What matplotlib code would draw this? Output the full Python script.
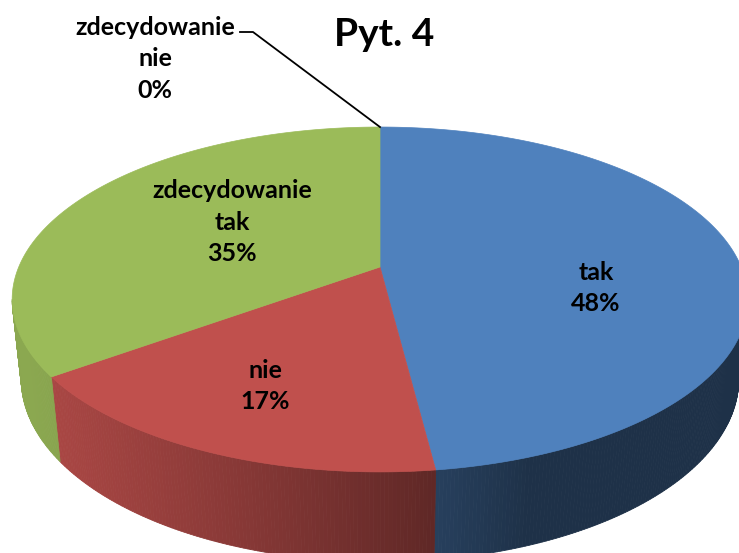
import numpy as np
import matplotlib
matplotlib.use('Agg')
import matplotlib.pyplot as plt
from matplotlib.patches import Polygon
from matplotlib.colors import to_rgb

# data
categories = ['tak', 'nie', 'zdecydowanie\ntak', 'zdecydowanie\nnie']
values = [48, 17, 35, 0]
colors = ['#4F81BD', '#C0504D', '#9BBB59', '#8064A2']
title = 'Pyt. 4'

# label layout (pixel centres of the text blocks)
label_pos = [(596, 288), (265, 386), (232, 222), (155, 59)]

# simple perspective camera for the 3d pie
CX, CY = 380, 267
F = 1703
SIN_A, COS_A = 0.4604, 0.8877
DIST = 4.714
DEPTH = 0.25
VISIBLE = np.degrees(np.arccos(-1 / (DIST / COS_A)))  # first side angle facing camera


def project(theta, r=1.0, drop=0.0):
    t = np.radians(theta)
    X = r * np.sin(t)
    Z = -r * np.cos(t)
    den = DIST + drop * SIN_A - Z * COS_A
    return CX + F * X / den, CY + F * (drop * COS_A + Z * SIN_A) / den


def shade(color, theta):
    k = 0.38 + 0.52 * max(0.0, np.cos(np.radians(theta - 250)))
    return tuple(c * k for c in to_rgb(color))


fig = plt.figure(figsize=(7.39, 5.53), dpi=100)
ax = fig.add_axes([0, 0, 1, 1])
ax.set_xlim(0, 739)
ax.set_ylim(553, 0)
ax.axis('off')

total = float(sum(values))
ends = np.cumsum(values) / total * 360
starts = ends - np.array(values) / total * 360

# side walls
for a0, a1, col in zip(starts, ends, colors):
    lo, hi = max(a0, VISIBLE), min(a1, 360 - VISIBLE)
    if hi <= lo:
        continue
    ths = np.linspace(lo, hi, max(2, int(hi - lo) * 2))
    for t0, t1 in zip(ths[:-1], ths[1:]):
        pts = [project(t0), project(t1), project(t1, drop=DEPTH), project(t0, drop=DEPTH)]
        c = shade(col, (t0 + t1) / 2)
        ax.add_patch(Polygon(pts, closed=True, facecolor=c, edgecolor=c, lw=0.6))

# top face
centre = project(0, r=0)
for a0, a1, col in zip(starts, ends, colors):
    if a1 - a0 <= 0:
        continue
    ths = np.linspace(a0, a1, max(2, int((a1 - a0) * 2)))
    pts = [centre] + [project(t) for t in ths]
    ax.add_patch(Polygon(pts, closed=True, facecolor=col, edgecolor=col, lw=0.5))

# labels
font = ['Lato', 'DejaVu Sans']
for name, val, (lx, ly) in zip(categories, values, label_pos):
    ax.text(lx, ly, f'{name}\n{val:.0f}%', ha='center', va='center',
            fontsize=18, fontweight='bold', family=font, linespacing=1.45)

# leader line for the empty slice
zx, zy = project(ends[-1])
ax.plot([240, 253, zx], [32, 32, zy], color='black', lw=1.3)

ax.text(384, 34, title, ha='center', va='center', fontsize=28,
        fontweight='bold', family=font)

fig.savefig('out.png', dpi=100)
